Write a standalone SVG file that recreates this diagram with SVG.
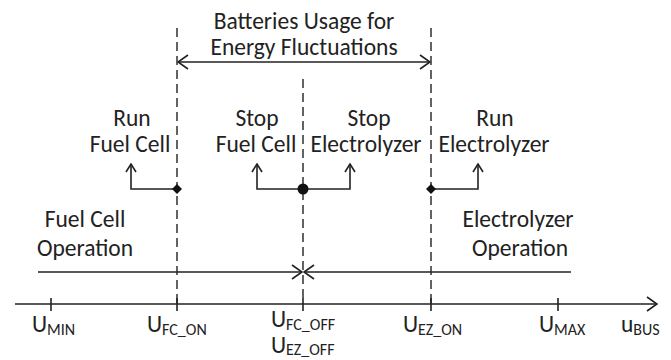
<svg xmlns="http://www.w3.org/2000/svg" width="671" height="360" viewBox="0 0 671 360">
<defs>
<style>
.t{font-family:Carlito,Lato,"Liberation Sans",sans-serif;font-size:23.5px;fill:#222;text-anchor:middle}
.a{text-anchor:start}
.s{font-size:16px}
.ln{stroke:#222;stroke-width:1.6;fill:none}
.ds{stroke:#222;stroke-width:1.4;fill:none;stroke-dasharray:9 5}
</style>
<marker id="ah" viewBox="0 0 12 16" refX="11" refY="8" markerWidth="12" markerHeight="16" markerUnits="userSpaceOnUse" orient="auto-start-reverse">
<path d="M1,1 L11,8 L1,15" fill="none" stroke="#222" stroke-width="1.6"/>
</marker>
<marker id="as" viewBox="0 0 10 12" refX="9" refY="6" markerWidth="10" markerHeight="12" markerUnits="userSpaceOnUse" orient="auto">
<path d="M1,1 L9,6 L1,11" fill="none" stroke="#222" stroke-width="1.6"/>
</marker>
</defs>
<rect width="671" height="360" fill="#fff"/>
<g id="guides">
<line class="ds" x1="177" y1="28" x2="177" y2="304"/>
<line class="ds" x1="303" y1="79" x2="303" y2="304"/>
<line class="ds" x1="431" y1="28" x2="431" y2="304"/>
</g>
<g id="connectors">
<line class="ln" x1="178" y1="62" x2="430" y2="62" marker-start="url(#ah)" marker-end="url(#ah)"/>
<path class="ln" d="M177,189 H131 V164" marker-end="url(#as)"/>
<path class="ln" d="M303,189 H257 V164" marker-end="url(#as)"/>
<path class="ln" d="M303,189 H350 V164" marker-end="url(#as)"/>
<path class="ln" d="M431,189 H478 V164" marker-end="url(#as)"/>
<line class="ln" x1="38" y1="272" x2="302" y2="272" marker-end="url(#ah)"/>
<line class="ln" x1="571" y1="272" x2="304" y2="272" marker-end="url(#ah)"/>
<line class="ln" x1="15" y1="304" x2="657" y2="304" marker-end="url(#ah)"/>
<path class="ln" d="M51,298 V311 M177,298 V311 M303,298 V311 M431,298 V311 M558,298 V311"/>
</g>
<g id="dots" fill="#111">
<path d="M177,184 L182,189 L177,194 L172,189 Z"/>
<circle cx="303" cy="189" r="5.5"/>
<path d="M431,184 L436,189 L431,194 L426,189 Z"/>
</g>
<g id="battery-label">
<text class="t" x="304" y="29">Batteries Usage for</text>
<text class="t" x="304" y="55">Energy Fluctuations</text>
</g>
<g id="run-fc">
<text class="t" x="132" y="126">Run</text>
<text class="t" x="130" y="152">Fuel Cell</text>
</g>
<g id="stop-fc">
<text class="t" x="257" y="126">Stop</text>
<text class="t" x="256" y="152">Fuel Cell</text>
</g>
<g id="stop-ez">
<text class="t" x="369" y="126">Stop</text>
<text class="t" x="366" y="152">Electrolyzer</text>
</g>
<g id="run-ez">
<text class="t" x="495" y="126">Run</text>
<text class="t" x="494" y="152">Electrolyzer</text>
</g>
<g id="fc-op">
<text class="t" x="85" y="227">Fuel Cell</text>
<text class="t" x="85" y="256">Operation</text>
</g>
<g id="ez-op">
<text class="t" x="518" y="227">Electrolyzer</text>
<text class="t" x="520" y="256">Operation</text>
</g>
<g id="axis-labels">
<text class="t a" x="32" y="332">U<tspan class="s" dy="3">MIN</tspan></text>
<text class="t a" x="147" y="332">U<tspan class="s" dy="3">FC_ON</tspan></text>
<text class="t a" x="271" y="327">U<tspan class="s" dy="3">FC_OFF</tspan></text>
<text class="t a" x="271" y="353">U<tspan class="s" dy="2">EZ_OFF</tspan></text>
<text class="t a" x="403" y="332">U<tspan class="s" dy="3">EZ_ON</tspan></text>
<text class="t a" x="539" y="332">U<tspan class="s" dy="3">MAX</tspan></text>
<text class="t a" x="621" y="332">u<tspan class="s" dy="3">BUS</tspan></text>
</g>
</svg>
